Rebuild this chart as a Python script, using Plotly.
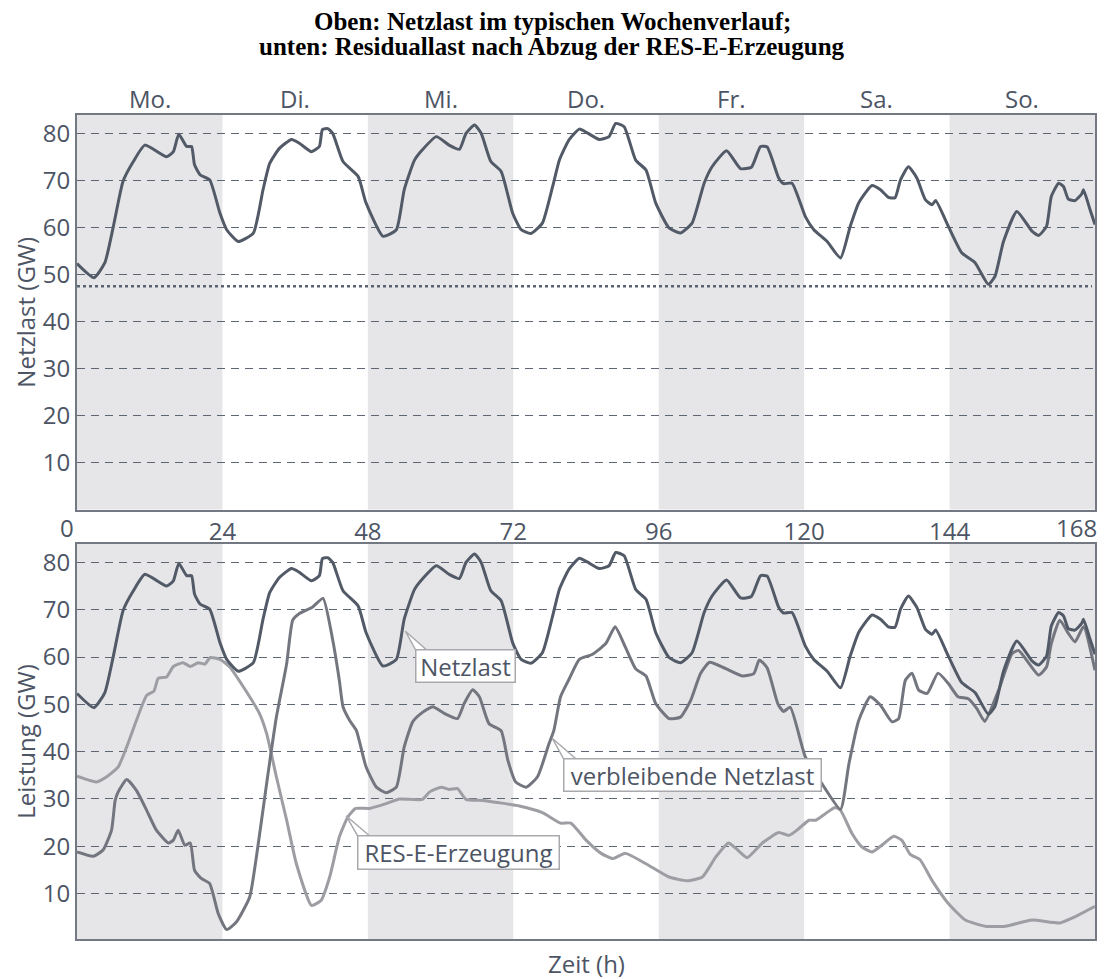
import plotly.graph_objects as go
from plotly.subplots import make_subplots

# ---------------- data ----------------
netz_h = [0.0, 2.8, 4.6, 6.0, 7.6, 9.3, 11.2, 14.8, 15.9, 16.8, 18.1, 18.9, 19.4, 20.3, 21.9, 23.6,
          24.7, 26.6, 29.1, 30.7, 31.8, 33.4, 35.4, 36.7, 38.7, 40.0, 40.5, 41.4, 42.2, 43.9, 46.4, 47.7,
          50.5, 52.7, 54.0, 55.7, 57.0, 59.3, 61.4, 63.1, 64.2, 65.6, 66.7, 68.3, 70.0, 71.9,
          73.3, 74.9, 76.8, 78.5, 79.6, 81.2, 82.9, 84.2, 86.2, 87.8, 88.9, 90.3, 92.2, 93.9, 95.5,
          97.7, 99.6, 101.5, 103.5, 104.8, 107.2, 109.5, 111.3, 112.8, 113.9, 115.8, 116.6, 118.0,
          120.2, 121.6, 123.8, 126.0, 127.6, 129.0, 131.2, 132.6, 133.9, 135.0, 135.9, 137.2, 138.6,
          140.0, 141.1, 141.7, 143.8, 146.0, 148.2, 150.4, 151.5, 152.9, 155.1, 157.6, 158.7, 160.0,
          160.8, 162.0, 162.8, 163.6, 164.7, 165.8, 166.1, 167.2, 168.0]
netz_gw = [52.3, 49.3, 52.5, 60.2, 69.8, 74.0, 77.5, 75.0, 76.1, 79.8, 77.2, 77.2, 73.3, 71.2, 70.1, 63.0,
           59.5, 57.0, 58.8, 68.0, 73.6, 76.8, 78.7, 77.9, 76.1, 77.2, 80.8, 81.0, 80.0, 74.0, 70.8, 65.2,
           58.1, 59.5, 68.0, 74.3, 76.5, 79.3, 77.5, 76.6, 80.0, 81.8, 80.0, 74.0, 71.9, 63.0,
           59.5, 58.7, 60.9, 68.7, 74.3, 78.6, 80.9, 80.1, 78.7, 79.3, 82.1, 81.4, 74.3, 72.2, 65.2,
           59.9, 58.8, 60.9, 69.4, 72.9, 76.3, 72.5, 72.8, 77.2, 77.1, 70.5, 69.3, 69.4,
           62.3, 59.5, 57.0, 53.5, 60.2, 65.2, 68.9, 68.0, 66.4, 66.3, 70.1, 72.9, 70.5,
           65.9, 64.8, 65.7, 60.2, 54.6, 52.5, 47.9, 49.6, 57.0, 63.4, 59.2, 58.3, 60.2,
           66.6, 69.4, 68.7, 66.0, 65.7, 67.1, 68.0, 63.7, 60.6]

rest_h = [0.0, 2.7, 4.3, 5.7, 6.3, 6.8, 8.2, 9.8, 11.5, 13.1, 15.1, 15.9, 16.7, 17.8, 18.7, 19.4, 20.5,
          21.9, 23.3, 24.7, 26.3, 28.5, 29.6, 31.3, 32.9, 34.6, 35.6, 36.7, 38.9, 40.6, 42.2, 43.3, 43.9,
          45.0, 46.1, 47.7, 49.4, 51.0, 52.7, 54.0, 55.4, 56.8, 58.7, 60.6, 62.8, 63.9, 65.3, 66.4,
          68.0, 70.0, 71.1, 72.4, 74.1, 76.0, 77.9, 78.7, 79.8, 81.2, 82.9, 85.1, 87.3, 88.8, 90.5,
          92.2, 93.9, 95.5, 97.7, 99.6, 101.3, 102.9, 104.4, 107.0, 109.8, 111.7, 112.6, 113.9, 115.7,
          116.6, 117.7, 120.2, 122.9, 126.0, 127.4, 129.0, 130.9, 132.6, 134.5, 135.6, 136.7, 137.8,
          138.9, 140.3, 142.1, 143.8, 145.4, 147.1, 148.5, 149.8, 152.1, 154.3, 155.4, 158.7, 160.0,
          160.8, 162.2, 163.6, 164.7, 166.1, 168.0]
rest_gw = [18.8, 17.9, 19.2, 23.4, 29.7, 31.5, 34.1, 31.8, 27.6, 23.4, 20.7, 21.3, 23.4, 20.2, 20.7, 14.9, 13.2,
           12.1, 5.8, 2.4, 4.0, 9.3, 17.7, 33.3, 47.3, 58.6, 67.8, 69.2, 70.6, 72.4, 63.6, 55.0, 49.5,
           46.6, 44.5, 36.8, 32.5, 31.3, 32.5, 41.0, 46.3, 48.1, 49.5, 48.1, 47.0, 50.2, 53.1, 51.6,
           45.9, 44.4, 38.2, 33.6, 32.5, 34.7, 41.7, 44.5, 51.6, 55.3, 59.5, 60.6, 62.9, 66.4, 62.1,
           57.5, 56.0, 50.2, 47.0, 47.3, 50.9, 56.5, 58.9, 57.6, 56.0, 56.5, 59.4, 57.7, 50.0,
           48.5, 49.4, 38.9, 33.3, 27.8, 37.5, 46.6, 51.6, 49.8, 46.3, 47.0, 55.1, 56.6,
           53.0, 52.3, 56.6, 54.4, 51.6, 51.2, 49.1, 46.4, 53.0, 60.7, 61.4, 56.2, 57.9,
           62.9, 67.8, 65.0, 63.2, 66.4, 57.2]

res_h = [0.0, 3.2, 4.9, 6.8, 8.2, 9.8, 11.5, 12.7, 13.4, 14.8, 15.9, 17.5, 18.7, 20.0, 21.1, 22.0, 23.6,
         25.2, 28.0, 30.1, 31.3, 32.9, 34.6, 36.2, 38.7, 40.3, 41.7, 43.3, 44.7, 46.0, 48.3, 51.0, 53.2,
         57.0, 58.2, 60.1, 61.4, 62.8, 64.2, 67.0, 69.7, 73.0, 76.8, 79.8, 81.5, 84.0, 86.5, 88.4, 90.5,
         93.9, 97.7, 100.7, 103.2, 105.4, 107.5, 108.7, 110.6, 113.1, 115.8, 117.5, 119.1, 120.8, 121.9,
         123.5, 125.1, 126.0, 127.9, 129.5, 131.2, 132.8, 134.8, 136.1, 137.5, 139.1, 141.1, 143.8,
         146.6, 149.9, 153.2, 157.6, 162.2, 164.7, 168.0]
res_gw = [34.8, 33.6, 34.7, 36.8, 41.0, 46.6, 51.9, 52.8, 55.5, 55.8, 58.0, 58.8, 58.0, 58.8, 58.5, 59.9, 59.5,
          57.9, 52.6, 48.1, 43.8, 34.7, 25.5, 16.3, 7.5, 8.6, 13.5, 22.0, 26.2, 28.0, 28.0, 29.0, 30.0,
          29.9, 31.5, 32.5, 32.0, 32.2, 29.9, 29.7, 29.2, 28.5, 27.1, 24.9, 24.9, 21.3, 18.5, 17.4, 18.5,
          16.3, 13.5, 12.7, 13.5, 17.7, 20.7, 19.6, 17.6, 20.7, 22.9, 22.3, 23.7, 25.5, 25.5,
          26.9, 28.2, 27.6, 22.7, 19.9, 18.8, 20.2, 22.1, 21.3, 18.3, 17.2, 12.8, 7.9,
          4.4, 3.1, 3.1, 4.4, 3.8, 5.1, 7.3]

threshold_h = [0, 167.5]
threshold_gw = [47.5, 47.5]

days = ["Mo.", "Di.", "Mi.", "Do.", "Fr.", "Sa.", "So."]
day_centers = [12, 36, 60, 84, 108, 132, 156]
shaded_days = [(0, 24), (48, 72), (96, 120), (144, 168)]
x_ticks = [24, 48, 72, 96, 120, 144]
y_ticks = [10, 20, 30, 40, 50, 60, 70, 80]

title_lines = ["Oben: Netzlast im typischen Wochenverlauf;",
               "unten: Residuallast nach Abzug der RES-E-Erzeugung"]

# annotation callouts: (text, tip, base1, base2, box center, box w, box h)
callouts = [
    ("Netzlast", (54.2, 65.45), (56.18, 60.8), (58.32, 60.8), (64.15, 58.05), 101, 34),
    ("verbleibende Netzlast", (78.47, 42.77), (80.48, 38.08), (82.7, 38.08), (101.5, 35.1), 259, 34),
    ("RES-E-Erzeugung", (44.43, 26.41), (46.54, 21.69), (48.76, 21.69), (62.9, 18.6), 203, 35),
]

# ---------------- style ----------------
FONT = "Open Sans"
FS = 24
TXT = "#4d5565"
C_NETZ = "#525a67"
C_REST = "#74767f"
C_RES = "#9d9ea3"
SHADE = "#e6e6e9"
GRID = "#5f6673"
FRAME = "#737883"
BOXLINE = "#a9a9ad"

fig = make_subplots(rows=2, cols=1, shared_xaxes=False, vertical_spacing=0.0)

# top plot
fig.add_trace(go.Scatter(x=netz_h, y=netz_gw, mode="lines",
                         line=dict(color=C_NETZ, width=3, shape="spline", smoothing=0.5)), row=1, col=1)
fig.add_trace(go.Scatter(x=threshold_h, y=threshold_gw, mode="lines",
                         line=dict(color="#5b6372", width=2.5, dash="dot")), row=1, col=1)
# bottom plot
fig.add_trace(go.Scatter(x=res_h, y=res_gw, mode="lines",
                         line=dict(color=C_RES, width=3, shape="spline", smoothing=0.5)), row=2, col=1)
fig.add_trace(go.Scatter(x=rest_h, y=rest_gw, mode="lines",
                         line=dict(color=C_REST, width=3, shape="spline", smoothing=0.5)), row=2, col=1)
fig.add_trace(go.Scatter(x=netz_h, y=netz_gw, mode="lines",
                         line=dict(color=C_NETZ, width=3, shape="spline", smoothing=0.5)), row=2, col=1)

shapes = []
for (a, b) in shaded_days:
    for xr, yr in (("x", "y domain"), ("x2", "y2 domain")):
        shapes.append(dict(type="rect", xref=xr, yref=yr, x0=a, x1=b, y0=0, y1=1,
                           fillcolor=SHADE, line=dict(width=0), layer="below"))

annotations = []
for (text, tip, b1, b2, c, w, h) in callouts:
    shapes.append(dict(type="path", xref="x2", yref="y2",
                       path=f"M {b1[0]},{b1[1]} L {tip[0]},{tip[1]} L {b2[0]},{b2[1]}",
                       fillcolor="white", line=dict(color=BOXLINE, width=1.5), layer="above"))
    annotations.append(dict(text=text, x=c[0], y=c[1], xref="x2", yref="y2", showarrow=False,
                            width=w - 3, height=h - 3, borderpad=0, bgcolor="white",
                            bordercolor=BOXLINE, borderwidth=1.5,
                            font=dict(family=FONT, size=FS, color=TXT)))

for d, c in zip(days, day_centers):
    annotations.append(dict(text=d, x=c, y=1, xref="x", yref="paper", yanchor="middle",
                            yshift=17, showarrow=False, font=dict(family=FONT, size=FS, color=TXT)))

# title (two lines, tight spacing)
for line, ys in zip(title_lines, (94, 69)):
    annotations.append(dict(text=f"<b>{line}</b>", x=0.467, y=1, xref="paper", yref="paper",
                            yanchor="middle", yshift=ys, showarrow=False, height=29,
                            font=dict(family="Liberation Serif", size=25, color="black")))

# end tick labels of top x-axis
annotations.append(dict(text="0", x=0, y=0.5212, xref="x", yref="paper", yanchor="middle",
                        xshift=-10, yshift=-18, showarrow=False, font=dict(family=FONT, size=FS, color=TXT)))
annotations.append(dict(text="168", x=168, y=0.5212, xref="x", yref="paper", yanchor="middle",
                        xanchor="right", xshift=4, yshift=-18, showarrow=False,
                        font=dict(family=FONT, size=FS, color=TXT)))
annotations.append(dict(text="Zeit (h)", x=0.5, y=0, xref="paper", yref="paper", yanchor="middle",
                        yshift=-24, showarrow=False, font=dict(family=FONT, size=FS, color=TXT)))

# page has an 8px body margin: figure is sized/positioned so the plot lands where the reference has it
fig.update_layout(
    width=1099, height=971,
    margin=dict(l=69, r=10, t=107, b=40),
    paper_bgcolor="white", plot_bgcolor="white",
    showlegend=False,
    shapes=shapes, annotations=annotations,
    font=dict(family=FONT, color=TXT),
)

axis_common = dict(showline=True, mirror=True, linecolor=FRAME, linewidth=2, ticks="",
                   zeroline=False)
fig.update_xaxes(range=[0, 168], showgrid=False, **axis_common)
fig.update_xaxes(tickvals=x_ticks, tickfont=dict(family=FONT, size=FS, color=TXT), row=1, col=1)
fig.update_xaxes(showticklabels=False, row=2, col=1)

fig.update_yaxes(tickvals=y_ticks, showgrid=True, gridcolor=GRID, gridwidth=1, griddash="8px,6px",
                 tickfont=dict(family=FONT, size=FS, color=TXT), **axis_common)
fig.update_yaxes(range=[0, 83.9], domain=[0.5212, 1.0],
                 title=dict(text="Netzlast (GW)", font=dict(family=FONT, size=FS, color=TXT), standoff=0),
                 row=1, col=1)
fig.update_yaxes(range=[0.4, 83.9], domain=[0.0, 0.4794],
                 title=dict(text="Leistung (GW)", font=dict(family=FONT, size=FS, color=TXT), standoff=0),
                 row=2, col=1)

fig.write_html("out.html")
